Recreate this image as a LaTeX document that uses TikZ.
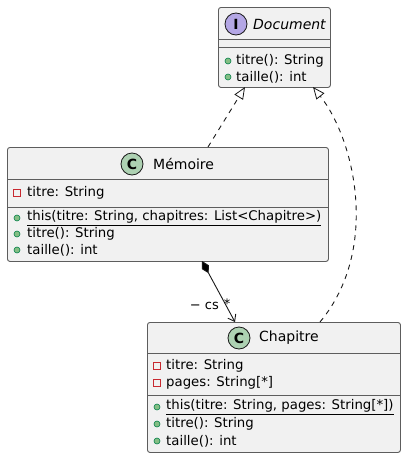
\documentclass[tikz,border=0pt]{standalone}
\usepackage{fontspec}
\setmainfont{DejaVu Sans}
\usetikzlibrary{arrows.meta}
\definecolor{boxfill}{HTML}{F1F1F1}
\definecolor{boxline}{HTML}{181818}
\definecolor{cgreen}{HTML}{ADD1B2}
\definecolor{ipurple}{HTML}{B4A7E5}
\definecolor{pubfill}{HTML}{84BE84}
\definecolor{publine}{HTML}{038048}
\definecolor{privline}{HTML}{C82930}
\tikzset{
  umlbox/.style={draw=boxline!70, fill=boxfill, line width=0.9pt, rounded corners=2.5pt, anchor=north west, inner sep=0pt},
  sepline/.style={draw=boxline!70, line width=0.9pt},
  member/.style={anchor=west, inner sep=0pt, font=\fontsize{13.3}{15}\selectfont},
  titletext/.style={anchor=west, inner sep=0pt, font=\fontsize{14}{16}\selectfont},
  badge/.style={circle, draw=boxline, line width=0.8pt, minimum size=22pt, inner sep=0pt, font=\bfseries\fontsize{14}{16}\selectfont},
  pubicon/.style={circle, draw=publine, fill=pubfill, line width=0.6pt, minimum size=6pt, inner sep=0pt},
  privicon/.style={rectangle, draw=privline, fill=none, line width=0.8pt, minimum size=7pt, inner sep=0pt},
  dashedlink/.style={draw=boxline, line width=0.9pt, dash pattern=on 5pt off 5pt},
  solidlink/.style={draw=boxline, line width=0.9pt},
  lbl/.style={inner sep=0pt, font=\fontsize{13}{15}\selectfont}
}
\begin{document}
\begin{tikzpicture}[x=1pt,y=-1pt]
\useasboundingbox (0,0) rectangle (406,458);
% Document
\node[umlbox, minimum width=112pt, minimum height=80pt] (doc) at (218,7) {};
\node[badge, fill=ipurple] (docicon) at (236,24) {I};
\node[titletext] (doctitle) at (253,24) {\itshape Document};
\draw[sepline] (218,39) -- (330,39);
\draw[sepline] (218,47) -- (330,47);
\node[pubicon] (dp1) at (228,61) {};
\node[member] (dm1) at (236,61) {titre(): String};
\node[pubicon] (dp2) at (228,77) {};
\node[member] (dm2) at (236,77) {taille(): int};
% Memoire
\node[umlbox, minimum width=321pt, minimum height=114pt] (mem) at (7,147) {};
\node[badge, fill=cgreen] (memicon) at (132,164) {C};
\node[titletext] (memtitle) at (153,164) {Mémoire};
\draw[sepline] (7,179) -- (328,179);
\draw[sepline] (7,207) -- (328,207);
\node[privicon] (ma1i) at (17,193) {};
\node[member] (ma1) at (27,193) {titre: String};
\node[pubicon] (mm1i) at (17,218) {};
\node[member] (mm1) at (27,218) {\underline{this(titre: String, chapitres: List<Chapitre>)}};
\node[pubicon] (mm2i) at (17,234) {};
\node[member] (mm2) at (27,234) {titre(): String};
\node[pubicon] (mm3i) at (17,250) {};
\node[member] (mm3) at (27,250) {taille(): int};
% Chapitre
\node[umlbox, minimum width=253pt, minimum height=130pt] (chap) at (147,322) {};
\node[badge, fill=cgreen] (chapicon) at (239,338) {C};
\node[titletext] (chaptitle) at (259,338) {Chapitre};
\draw[sepline] (147,353) -- (400,353);
\draw[sepline] (147,395) -- (400,395);
\node[privicon] (ca1i) at (157,366) {};
\node[member] (ca1) at (166,366) {titre: String};
\node[privicon] (ca2i) at (157,383) {};
\node[member] (ca2) at (166,383) {pages: String[*]};
\node[pubicon] (cm1i) at (157,407) {};
\node[member] (cm1) at (166,407) {\underline{this(titre: String, pages: String[*])}};
\node[pubicon] (cm2i) at (157,424) {};
\node[member] (cm2) at (166,424) {titre(): String};
\node[pubicon] (cm3i) at (157,441) {};
\node[member] (cm3) at (166,441) {taille(): int};
% connectors
\coordinate (memtop) at (208,147);
\coordinate (docb1) at (245,87);
\coordinate (docb2) at (313,87);
\coordinate (chaptop1) at (320,322);
\coordinate (membot) at (202,261);
\coordinate (chaptop2) at (235,322);
\draw[dashedlink, -{Triangle[length=12pt,width=10pt,fill=white,line width=0.8pt]}] (memtop) -- (docb1);
\draw[dashedlink, -{Triangle[length=12pt,width=10pt,fill=white,line width=0.8pt]}] (chaptop1) .. controls (380,250) and (355,140) .. (docb2);
\draw[solidlink, {Diamond[length=14pt,width=8pt,fill=black]}-{Straight Barb[length=6pt,width=9pt]}] (membot) -- (chaptop2);
\node[lbl, anchor=east] (cslbl) at (219,306) {\textminus{} cs};
\node[lbl] (starlbl) at (227,304) {*};
\end{tikzpicture}
\end{document}
